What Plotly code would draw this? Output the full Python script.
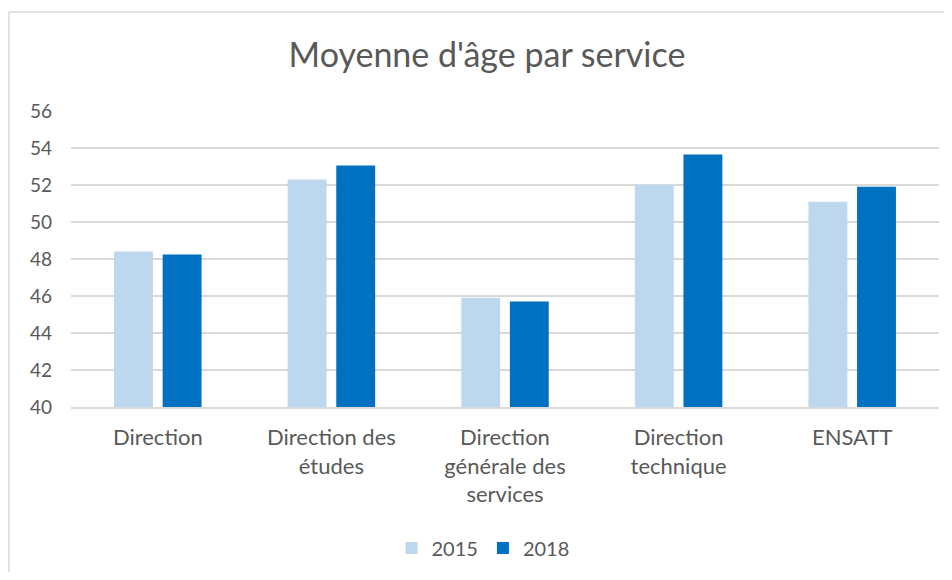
import plotly.graph_objects as go

categories = ["Direction", "Direction des<br>études", "Direction<br>générale des<br>services",
              "Direction<br>technique", "ENSATT"]
values_2015 = [48.4, 52.3, 45.9, 52.0, 51.1]
values_2018 = [48.25, 53.06, 45.7, 53.65, 51.9]
y_ticks = [40, 42, 44, 46, 48, 50, 52, 54, 56]

FONT = "Lato, Liberation Sans, sans-serif"
GREY = "#595959"

W, H = 936, 564
L, R, T, B = 63, 5, 103, 165
PW, PH = W - L - R, H - T - B
top_y = (PH + T - 4) / PH

fig = go.Figure()
fig.add_trace(go.Bar(name="2015", x=categories, y=values_2015, marker_color="#BDD7EE",
                     marker_line_width=0))
fig.add_trace(go.Bar(name="2018", x=categories, y=values_2018, marker_color="#0070C0",
                     marker_line_width=0))

fig.update_layout(
    width=W, height=H,
    margin=dict(l=L, r=R, t=T, b=B),
    paper_bgcolor="white", plot_bgcolor="white",
    barmode="group", bargap=0.44, bargroupgap=0.2,
    title=dict(text="Moyenne d'âge par service", x=479 / W, xanchor="center",
               y=1 - 47 / H, yanchor="middle",
               font=dict(family=FONT, size=34, color=GREY)),
    font=dict(family=FONT, size=19, color=GREY),
    showlegend=True,
    legend=dict(orientation="h", x=(483 - 71) / PW, xanchor="center",
                y=(399 - 540) / PH, yanchor="middle", itemwidth=30,
                font=dict(size=20, color=GREY), itemsizing="constant"),
    xaxis=dict(showline=True, linecolor="#D9D9D9", linewidth=1.5, ticks="",
               ticklabelstandoff=10,
               tickfont=dict(size=22, color=GREY)),
    yaxis=dict(range=[40, 56], tickvals=y_ticks, showgrid=True, gridcolor="#D9D9D9",
               gridwidth=1.5, zeroline=False, ticks="", ticklabelstandoff=18,
               tickfont=dict(size=19, color=GREY)),
    shapes=[
        dict(type="line", xref="paper", yref="paper", x0=(-L + 1) / PW, x1=(-L + 1) / PW,
             y0=top_y, y1=-1, line=dict(color="#D9D9D9", width=1.5)),
        dict(type="line", xref="paper", yref="paper", x0=(-L + 1) / PW, x1=1.1,
             y0=top_y, y1=top_y, line=dict(color="#D9D9D9", width=1.5)),
    ],
)

fig.write_html("out.html")
